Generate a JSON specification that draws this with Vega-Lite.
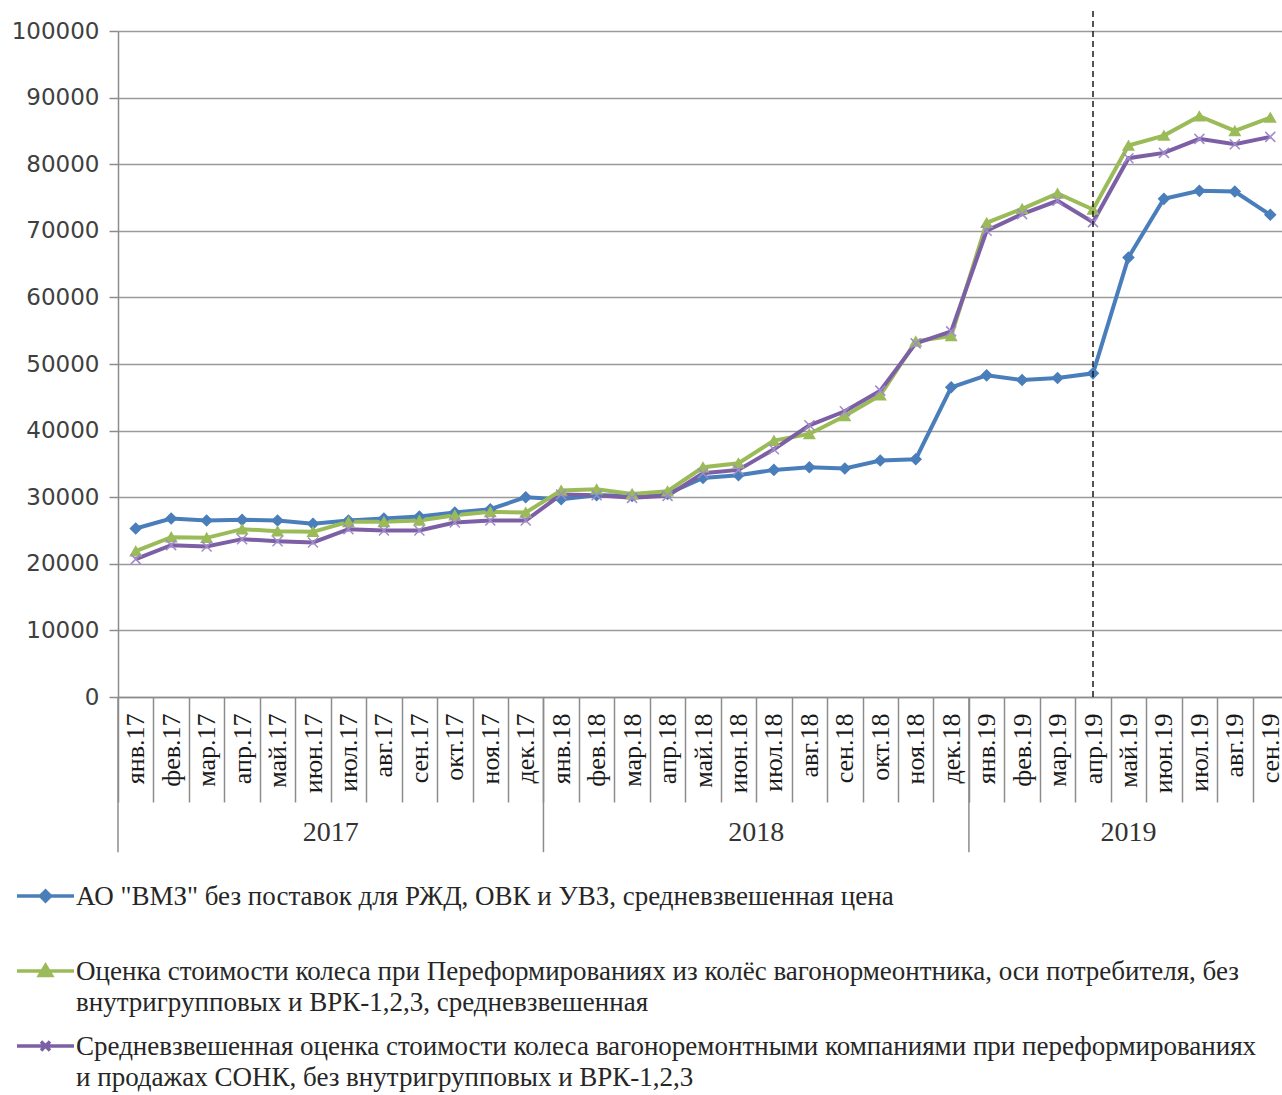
{
  "$schema": "https://vega.github.io/schema/vega-lite/v6.json",
  "width": 1164,
  "height": 666,
  "autosize": {"type": "none"},
  "padding": {"left": 118, "top": 31, "right": 0, "bottom": 398},
  "background": "white",
  "config": {
    "view": {"stroke": null},
    "axis": {"domainColor": "#8c8c8c", "domainWidth": 1.5, "tickColor": "#8c8c8c", "tickWidth": 1.5}
  },
  "datasets": {
    "prices": [
      {"month":"янв.17","series":"vmz","value":25300},{"month":"фев.17","series":"vmz","value":26800},{"month":"мар.17","series":"vmz","value":26500},{"month":"апр.17","series":"vmz","value":26600},{"month":"май.17","series":"vmz","value":26500},{"month":"июн.17","series":"vmz","value":26000},{"month":"июл.17","series":"vmz","value":26500},{"month":"авг.17","series":"vmz","value":26800},{"month":"сен.17","series":"vmz","value":27100},{"month":"окт.17","series":"vmz","value":27700},{"month":"ноя.17","series":"vmz","value":28200},{"month":"дек.17","series":"vmz","value":30000},
      {"month":"янв.18","series":"vmz","value":29700},{"month":"фев.18","series":"vmz","value":30300},{"month":"мар.18","series":"vmz","value":30200},{"month":"апр.18","series":"vmz","value":30500},{"month":"май.18","series":"vmz","value":32900},{"month":"июн.18","series":"vmz","value":33300},{"month":"июл.18","series":"vmz","value":34100},{"month":"авг.18","series":"vmz","value":34500},{"month":"сен.18","series":"vmz","value":34300},{"month":"окт.18","series":"vmz","value":35500},{"month":"ноя.18","series":"vmz","value":35700},{"month":"дек.18","series":"vmz","value":46500},
      {"month":"янв.19","series":"vmz","value":48300},{"month":"фев.19","series":"vmz","value":47600},{"month":"мар.19","series":"vmz","value":47900},{"month":"апр.19","series":"vmz","value":48600},{"month":"май.19","series":"vmz","value":66000},{"month":"июн.19","series":"vmz","value":74800},{"month":"июл.19","series":"vmz","value":76000},{"month":"авг.19","series":"vmz","value":75900},{"month":"сен.19","series":"vmz","value":72400},
      {"month":"янв.17","series":"pereform","value":21900},{"month":"фев.17","series":"pereform","value":24000},{"month":"мар.17","series":"pereform","value":23900},{"month":"апр.17","series":"pereform","value":25200},{"month":"май.17","series":"pereform","value":24900},{"month":"июн.17","series":"pereform","value":24800},{"month":"июл.17","series":"pereform","value":26300},{"month":"авг.17","series":"pereform","value":26300},{"month":"сен.17","series":"pereform","value":26500},{"month":"окт.17","series":"pereform","value":27300},{"month":"ноя.17","series":"pereform","value":27800},{"month":"дек.17","series":"pereform","value":27700},
      {"month":"янв.18","series":"pereform","value":31000},{"month":"фев.18","series":"pereform","value":31200},{"month":"мар.18","series":"pereform","value":30500},{"month":"апр.18","series":"pereform","value":30900},{"month":"май.18","series":"pereform","value":34500},{"month":"июн.18","series":"pereform","value":35100},{"month":"июл.18","series":"pereform","value":38500},{"month":"авг.18","series":"pereform","value":39500},{"month":"сен.18","series":"pereform","value":42200},{"month":"окт.18","series":"pereform","value":45300},{"month":"ноя.18","series":"pereform","value":53400},{"month":"дек.18","series":"pereform","value":54200},
      {"month":"янв.19","series":"pereform","value":71200},{"month":"фев.19","series":"pereform","value":73300},{"month":"мар.19","series":"pereform","value":75600},{"month":"апр.19","series":"pereform","value":73200},{"month":"май.19","series":"pereform","value":82800},{"month":"июн.19","series":"pereform","value":84300},{"month":"июл.19","series":"pereform","value":87200},{"month":"авг.19","series":"pereform","value":85000},{"month":"сен.19","series":"pereform","value":87000},
      {"month":"янв.17","series":"vrk","value":20700},{"month":"фев.17","series":"vrk","value":22800},{"month":"мар.17","series":"vrk","value":22600},{"month":"апр.17","series":"vrk","value":23700},{"month":"май.17","series":"vrk","value":23400},{"month":"июн.17","series":"vrk","value":23200},{"month":"июл.17","series":"vrk","value":25200},{"month":"авг.17","series":"vrk","value":25000},{"month":"сен.17","series":"vrk","value":25000},{"month":"окт.17","series":"vrk","value":26200},{"month":"ноя.17","series":"vrk","value":26500},{"month":"дек.17","series":"vrk","value":26500},
      {"month":"янв.18","series":"vrk","value":30400},{"month":"фев.18","series":"vrk","value":30300},{"month":"мар.18","series":"vrk","value":29900},{"month":"апр.18","series":"vrk","value":30200},{"month":"май.18","series":"vrk","value":33600},{"month":"июн.18","series":"vrk","value":34100},{"month":"июл.18","series":"vrk","value":37200},{"month":"авг.18","series":"vrk","value":40800},{"month":"сен.18","series":"vrk","value":42900},{"month":"окт.18","series":"vrk","value":46000},{"month":"ноя.18","series":"vrk","value":53100},{"month":"дек.18","series":"vrk","value":54900},
      {"month":"янв.19","series":"vrk","value":70000},{"month":"фев.19","series":"vrk","value":72500},{"month":"мар.19","series":"vrk","value":74500},{"month":"апр.19","series":"vrk","value":71300},{"month":"май.19","series":"vrk","value":80900},{"month":"июн.19","series":"vrk","value":81700},{"month":"июл.19","series":"vrk","value":83800},{"month":"авг.19","series":"vrk","value":83000},{"month":"сен.19","series":"vrk","value":84100}
    ],
    "years": [
      {"month":"янв.17","year":"2017","mid":"июл.17"},
      {"month":"янв.18","year":"2018","mid":"июл.18"},
      {"month":"янв.19","year":"2019","mid":"май.19"}
    ]
  },
  "layer": [
    {
      "data": {"name": "prices"},
      "mark": {"type": "line", "strokeWidth": 4},
      "encoding": {
        "x": {
          "field": "month", "type": "ordinal",
          "scale": {
            "type": "band", "paddingInner": 0, "paddingOuter": 0, "range": [0, 1170],
            "domain": ["янв.17","фев.17","мар.17","апр.17","май.17","июн.17","июл.17","авг.17","сен.17","окт.17","ноя.17","дек.17","янв.18","фев.18","мар.18","апр.18","май.18","июн.18","июл.18","авг.18","сен.18","окт.18","ноя.18","дек.18","янв.19","фев.19","мар.19","апр.19","май.19","июн.19","июл.19","авг.19","сен.19"]
          },
          "axis": {
            "title": null, "labelAngle": 270, "labelAlign": "right", "labelBaseline": "middle",
            "labelFont": "Liberation Serif", "labelFontSize": 26, "labelColor": "#1a1a1a",
            "tickSize": 105, "tickBand": "extent", "labelPadding": -89, "labelOverlap": false, "grid": false
          }
        },
        "y": {
          "field": "value", "type": "quantitative",
          "scale": {"domain": [0, 100000], "nice": false},
          "axis": {
            "title": null, "values": [0,10000,20000,30000,40000,50000,60000,70000,80000,90000,100000],
            "format": "d", "labelFont": "DejaVu Sans", "labelFontSize": 23, "labelColor": "#404040",
            "tickSize": 9, "labelPadding": 10, "grid": true, "gridColor": "#9a9a9a", "gridWidth": 1.5
          }
        },
        "color": {
          "field": "series", "type": "nominal",
          "scale": {"domain": ["vmz","pereform","vrk"], "range": ["#4a7ebb","#9bbb59","#7d5fa6"]},
          "legend": {
            "title": null, "orient": "none", "legendX": -100, "legendY": 839, "direction": "vertical",
            "gridAlign": "all", "rowPadding": 4, "padding": 0, "labelLimit": 1400,
            "labelFont": "Liberation Serif", "labelFontSize": 27, "labelColor": "#262626", "labelBaseline": "top",
            "labelOffset": 17, "symbolOffset": 14, "symbolSize": 4, "symbolStrokeWidth": 3.5, "symbolType": "M-28.5,12.5H28.5",
            "labelExpr": "datum.value == 'vmz' ? 'АО \"ВМЗ\" без поставок для РЖД, ОВК и УВЗ, средневзвешенная цена' : datum.value == 'pereform' ? ['Оценка стоимости колеса при Переформированиях из колёс вагонормеонтника, оси потребителя, без', 'внутригрупповых и ВРК-1,2,3, средневзвешенная'] : ['Средневзвешенная оценка стоимости колеса вагоноремонтными компаниями при переформированиях', 'и продажах СОНК, без внутригрупповых и ВРК-1,2,3']",
            "encode": {
              "labels": {"update": {"lineHeight": {"value": 31.5}}},
              "symbols": {"update": {
                "shape": {"signal": "datum.value == 'vmz' ? 'M-28.5,12.5H28.5M-5,12.5L0,7.5L5,12.5L0,17.5Z' : datum.value == 'pereform' ? 'M-28.5,12.5H28.5M-6,17L0,7L6,17Z' : 'M-28.5,12.5H28.5M-4.5,8L4.5,17M-4.5,17L4.5,8'"},
                "fill": {"signal": "scale('color', datum.value)"},
                "stroke": {"signal": "scale('color', datum.value)"},
                "strokeWidth": {"value": 3.5},
                "size": {"value": 4},
                "opacity": {"value": 1}
              }}
            }
          }
        }
      }
    },
    {
      "data": {"name": "prices"},
      "transform": [{"filter": "datum.series == 'vmz'"}],
      "mark": {"type": "point", "filled": true, "shape": "diamond", "size": 110, "strokeWidth": 1.5, "stroke": "#4a7ebb", "opacity": 1},
      "encoding": {
        "x": {"field": "month", "type": "ordinal"},
        "y": {"field": "value", "type": "quantitative"},
        "color": {"field": "series", "type": "nominal"}
      }
    },
    {
      "data": {"name": "prices"},
      "transform": [{"filter": "datum.series == 'pereform'"}],
      "mark": {"type": "point", "filled": true, "shape": "triangle-up", "size": 110, "strokeWidth": 1.5, "stroke": "#9bbb59", "opacity": 1},
      "encoding": {
        "x": {"field": "month", "type": "ordinal"},
        "y": {"field": "value", "type": "quantitative"},
        "color": {"field": "series", "type": "nominal"}
      }
    },
    {
      "data": {"name": "prices"},
      "transform": [{"filter": "datum.series == 'vrk'"}],
      "mark": {"type": "point", "filled": false, "shape": "M-1,-1L1,1M-1,1L1,-1", "size": 100, "strokeWidth": 1.5, "stroke": "#a08bcb", "opacity": 1},
      "encoding": {
        "x": {"field": "month", "type": "ordinal"},
        "y": {"field": "value", "type": "quantitative"}
      }
    },
    {
      "data": {"values": [{"month": "апр.19"}]},
      "mark": {"type": "rule", "color": "#1a1a1a", "strokeWidth": 1.5, "strokeDash": [6, 4]},
      "encoding": {
        "x": {"field": "month", "type": "ordinal"},
        "y": {"datum": 0, "type": "quantitative"},
        "y2": {"datum": 103000}
      }
    },
    {
      "data": {"name": "years"},
      "mark": {"type": "rule", "color": "#8c8c8c", "strokeWidth": 1.5},
      "encoding": {
        "x": {"field": "month", "type": "ordinal", "bandPosition": 0},
        "y": {"datum": 0, "type": "quantitative"},
        "y2": {"datum": -23300}
      }
    },
    {
      "data": {"name": "years"},
      "transform": [{"filter": "datum.year != '2019'"}],
      "mark": {"type": "text", "font": "Liberation Serif", "fontSize": 28, "color": "#333333", "baseline": "middle", "align": "center"},
      "encoding": {
        "x": {"field": "mid", "type": "ordinal", "bandPosition": 0},
        "y": {"datum": -20400, "type": "quantitative"},
        "text": {"field": "year"}
      }
    },
    {
      "data": {"name": "years"},
      "transform": [{"filter": "datum.year == '2019'"}],
      "mark": {"type": "text", "font": "Liberation Serif", "fontSize": 28, "color": "#333333", "baseline": "middle", "align": "center"},
      "encoding": {
        "x": {"field": "mid", "type": "ordinal", "bandPosition": 0.5},
        "y": {"datum": -20400, "type": "quantitative"},
        "text": {"field": "year"}
      }
    }
  ]
}
